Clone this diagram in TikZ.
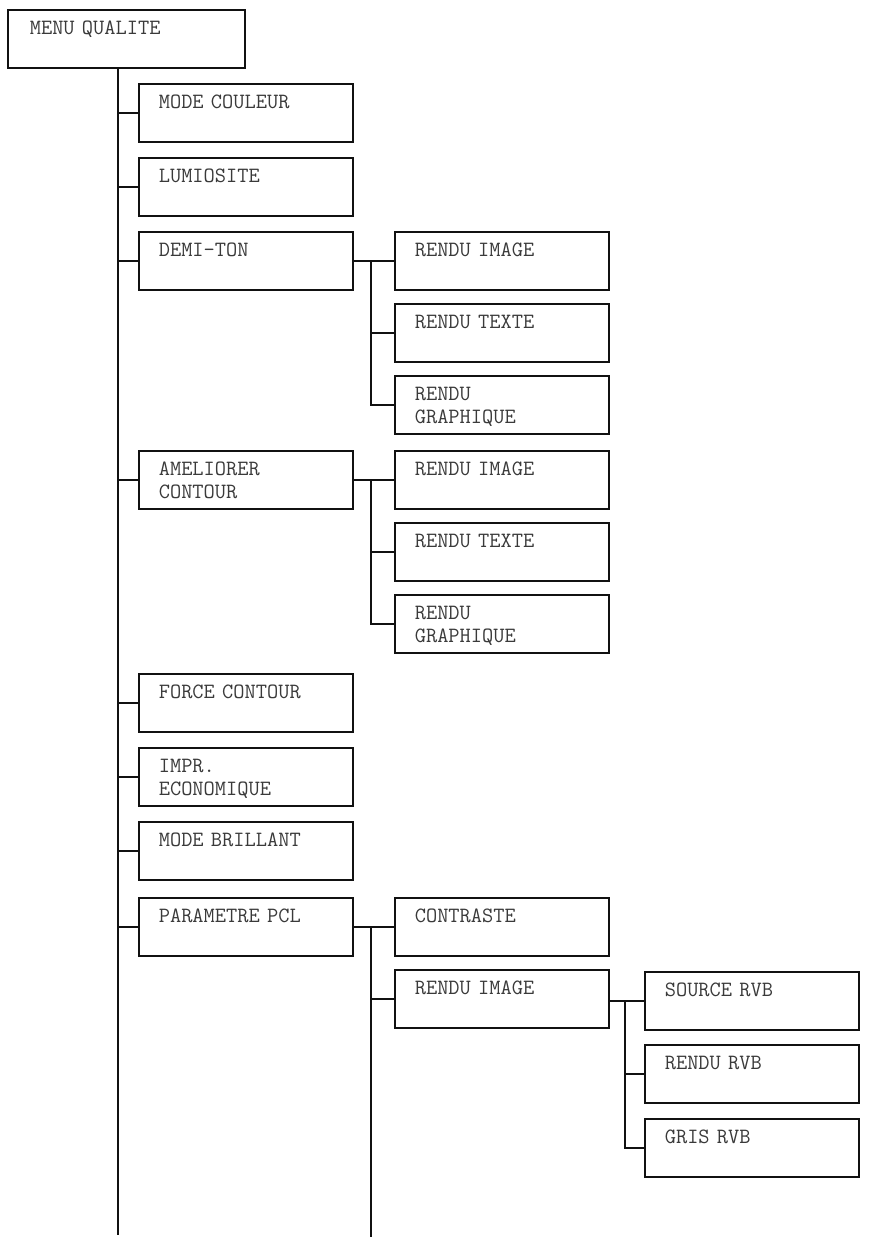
\documentclass[tikz,border=0pt]{standalone}
\usepackage{fontspec}
\setmonofont{Latin Modern Mono}[WordSpace={1,0,0}]
\definecolor{linkblack}{HTML}{111111}
\definecolor{labelgray}{HTML}{3A3A3A}
\newcommand\menufont{\ttfamily\fontsize{21.8}{23}\selectfont
  \fontdimen2\font=11.45pt\fontdimen3\font=0pt\fontdimen4\font=0pt\relax}

\begin{document}
\begin{tikzpicture}[x=1pt,y=-1pt,
    every node/.style={font=\menufont},
    menubox/.style={draw=linkblack,line width=1.6pt,anchor=north west,align=left,
      text width=174pt,inner xsep=20pt,inner ysep=0pt,
      text height=25pt,text depth=33pt,text=labelgray},
    link/.style={draw=linkblack,line width=1.6pt}]
    \useasboundingbox (0,0) rectangle (868,1243);

    % root and main trunk
    \node[menubox,text width=193pt,inner xsep=22pt] (root) at (7,9) {MENU QUALITE};
    \coordinate (trunk) at (118,1235);
    \draw[link] (root.south -| trunk) -- (trunk);

    \foreach \y/\name/\txt in {
      83/couleur/{MODE COULEUR},
      157/lumi/{LUMIOSITE},
      231/demiton/{DEMI-TON},
      450/contour/{AMELIORER\\CONTOUR},
      673/force/{FORCE CONTOUR},
      747/eco/{IMPR.\\ECONOMIQUE},
      821/brillant/{MODE BRILLANT},
      897/pcl/{PARAMETRE PCL}
    } {
      \node[menubox] (\name) at (138,\y) {\txt};
      \draw[link] (\name.west) -- (\name.west -| trunk);
    }

    % second level
    \foreach \y/\name/\txt in {
      231/dimage/{RENDU IMAGE},
      303/dtexte/{RENDU TEXTE},
      375/dgraph/{RENDU\\GRAPHIQUE},
      450/cimage/{RENDU IMAGE},
      522/ctexte/{RENDU TEXTE},
      594/cgraph/{RENDU\\GRAPHIQUE},
      897/contraste/{CONTRASTE},
      969/pimage/{RENDU IMAGE}
    } {
      \node[menubox] (\name) at (394,\y) {\txt};
    }
    \coordinate (fork) at (371,0);
    \draw[link] (demiton.east) -- (dimage.west);
    \draw[link] (demiton.east -| fork) |- (dgraph.west);
    \draw[link] (dtexte.west) -- (dtexte.west -| fork);
    \draw[link] (contour.east) -- (cimage.west);
    \draw[link] (contour.east -| fork) |- (cgraph.west);
    \draw[link] (ctexte.west) -- (ctexte.west -| fork);

    \coordinate (pcltail) at (371,1237);
    \draw[link] (pcl.east) -- (contraste.west);
    \draw[link] (pcl.east -| pcltail) -- (pcltail);
    \draw[link] (pimage.west) -- (pimage.west -| pcltail);

    % third level
    \foreach \y/\name/\txt in {
      971/source/{SOURCE RVB},
      1044/rendurvb/{RENDU RVB},
      1118/grisrvb/{GRIS RVB}
    } {
      \node[menubox] (\name) at (644,\y) {\txt};
    }
    \coordinate (rvbfork) at (625,0);
    \draw[link] (source.west) -- (source.west -| pimage.east);
    \draw[link] (source.west -| rvbfork) |- (grisrvb.west);
    \draw[link] (rendurvb.west) -- (rendurvb.west -| rvbfork);
  \end{tikzpicture}
\end{document}
